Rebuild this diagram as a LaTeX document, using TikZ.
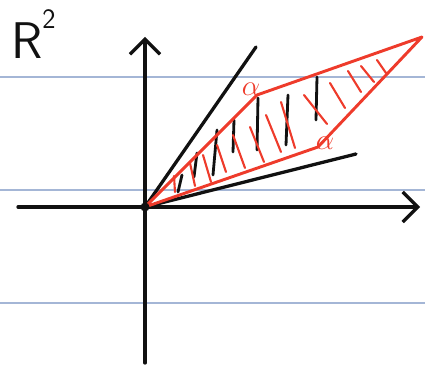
\documentclass[tikz,border=0pt]{standalone}
\usepackage{amsmath,amssymb}
\usepackage{xcolor}
\usepackage{tikz}
\usetikzlibrary{arrows.meta}
\definecolor{skInk}{HTML}{111111}
\definecolor{skRed}{HTML}{EE3B2B}
\definecolor{skRule}{HTML}{A4B6D6}
\tikzset{
  sk sketch/.style={line cap=round, line join=round},
  sk rule/.style={draw=skRule, line width=1.1pt},
  sk axis/.style={draw=skInk, line width=2.8pt,
    -{Straight Barb[length=4.5mm,width=9mm,line width=2.8pt]}},
  sk ray/.style={draw=skInk, line width=2.8pt},
  sk cone/.style={draw=skRed, line width=2.5pt},
  sk hatch/.style={draw=skRed, line width=1.8pt},
  sk stroke/.style={draw=skInk, line width=2.4pt},
  sk label/.style={text=skRed, font=\fontsize{24}{24}\selectfont, inner sep=0pt}
}

\begin{document}
\begin{tikzpicture}[sk sketch,x=0.03cm,y=-0.03cm]
\useasboundingbox (0,0) rectangle (425,376);
% ruled paper
\foreach \y in {77,190,303} \draw[sk rule] (0,\y) -- (425,\y);
% corner points
\coordinate (O) at (145,207);
\coordinate (xl) at (18,207);
\coordinate (xr) at (420,207);
\coordinate (yb) at (145,363);
\coordinate (yt) at (145,37);
\coordinate (u1) at (256,47);
\coordinate (u2) at (356,154);
\coordinate (a1) at (257,95);
\coordinate (a2) at (318,147);
\coordinate (s) at (422,37);
% hatching
\foreach \xa/\ya/\xb/\yb in {182/175/178/192,197/153/194/177,217/130/213/175,
  234/120/233/152,258/98/257/150,288/95/286/145,317/77/316/120}
  \draw[sk stroke] (\xa,\ya) -- (\xb,\yb);
\foreach \xa/\ya/\xb/\yb in {174/176/175/192,190/163/195/186,203/155/211/182,
  217/145/226/172,233/135/245/168,250/127/264/162,266/115/281/152,
  281/102/295/148,304/95/327/124,330/83/345/108,348/71/361/92,
  361/66/374/82,377/60/386/73}
  \draw[sk hatch] (\xa,\ya) -- (\xb,\yb);
% axes
\draw[sk axis] (xl) -- (xr);
\draw[sk axis] (yb) -- (yt);
% cone
\draw[sk ray] (O) -- (u1);
\draw[sk ray] (O) -- (u2);
\draw[sk cone] (O) -- (a1) -- (s) -- (a2) -- cycle;
\fill[skInk] (O) circle (4.5);
% labels
\node[sk label] (la1) at (251,89) {$\alpha$};
\node[sk label] (la2) at (325,143) {$\alpha$};
\node[font=\fontsize{44}{44}\selectfont\sffamily, text=skInk, inner sep=0pt]
  (R) at (27,41) {R};
\node[font=\fontsize{24}{24}\selectfont\sffamily, text=skInk, inner sep=0pt]
  (two) at (49,19) {2};
\end{tikzpicture}
\end{document}
